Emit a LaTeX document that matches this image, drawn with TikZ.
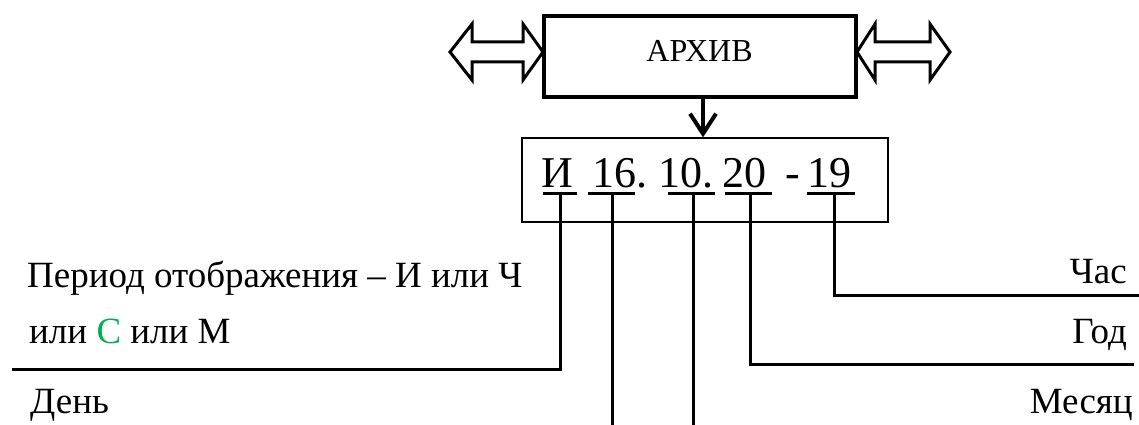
\documentclass[tikz,border=0pt]{standalone}
\usepackage{fontspec}
\setmainfont{Liberation Serif}
\usetikzlibrary{arrows.meta}
\definecolor{cgreen}{RGB}{0,176,80}
\begin{document}
\begin{tikzpicture}[x=1pt,y=-1pt,
  lbl/.style={inner sep=0pt,font=\fontsize{37}{44}\selectfont},
  codetok/.style={anchor=base west,inner sep=0pt,font=\fontsize{44}{50}\selectfont},
  conn/.style={line width=3pt,line join=miter},
  uline/.style={line width=3pt},
  dblarrow/.style={line width=3pt,line join=miter}]
\useasboundingbox (0,0) rectangle (1139,425);
% archive block
\node[draw,line width=4pt,minimum width=312pt,minimum height=81pt,inner sep=0pt] (archiv) at (700,57) {};
\node[inner sep=0pt,font=\fontsize{32}{38}\selectfont] (archivtext) at (699.5,51) {АРХИВ};
% double arrows
\draw[dblarrow] (450,52) -- (472,24) -- (472,42) -- (523,42) -- (523,24) -- (543,52)
  -- (523,80) -- (523,62) -- (472,62) -- (472,80) -- cycle;
\draw[dblarrow] (857,52) -- (875,24) -- (875,42) -- (930,42) -- (930,24) -- (950,52)
  -- (930,80) -- (930,62) -- (875,62) -- (875,80) -- cycle;
% code block
\node[draw,line width=1.3pt,minimum width=366pt,minimum height=84pt,inner sep=0pt] (code) at (705,180) {};
\draw[line width=4pt,-{Straight Barb[length=20pt,width=26pt]}] ([xshift=3pt]archiv.south) -- ([xshift=-2pt]code.north);
\node[codetok] (tI) at (541,187) {И};
\node[codetok] (tD) at (592,187) {16.};
\node[codetok] (tM) at (658,187) {10.};
\node[codetok] (tY) at (722,187) {20};
\node[codetok] (tdash) at (785,187) {-};
\node[codetok] (tH) at (807,187) {19};
% underlines
\coordinate (uI) at (560,193);
\coordinate (uD) at (612,193);
\coordinate (uM) at (693,193);
\coordinate (uY) at (750,193);
\coordinate (uH) at (834,193);
\draw[uline] (543,193) -- (577,193);
\draw[uline] (588,193) -- (635,193);
\draw[uline] (668,193) -- (715,193);
\draw[uline] (725,193) -- (772,193);
\draw[uline] (807,193) -- (855,193);
% connector ends
\coordinate (eI) at (12,369);
\coordinate (eD) at (612,425);
\coordinate (eM) at (693,425);
\coordinate (eY) at (1134,364);
\coordinate (eH) at (1139,295);
\draw[conn] (uI) |- (eI);
\draw[conn] (uD) -- (eD);
\draw[conn] (uM) -- (eM);
\draw[conn] (uY) |- (eY);
\draw[conn] (uH) |- (eH);
% labels
\node[lbl,anchor=base west] (period) at (27,287) {Период отображения – И или Ч};
\node[lbl,anchor=base west] (ili) at (29,343) {или \textcolor{cgreen}{С} или М};
\node[lbl,anchor=base west] (den) at (30,413) {День};
\node[lbl,anchor=base east] (chas) at (1127,283) {Час};
\node[lbl,anchor=base east] (god) at (1127,343) {Год};
\node[lbl,anchor=base east] (mes) at (1133,413) {Месяц};
\end{tikzpicture}
\end{document}
